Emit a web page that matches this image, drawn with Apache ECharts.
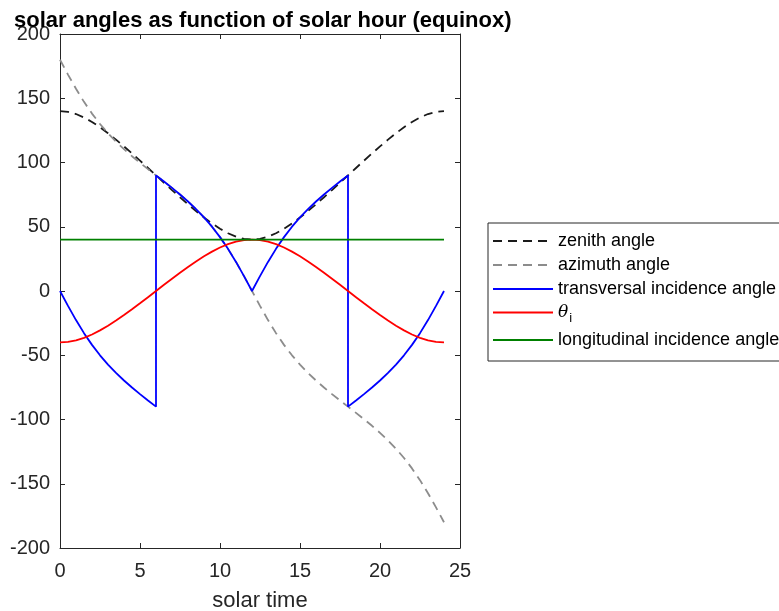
<!DOCTYPE html>
<html lang="en">
<head>
<meta charset="UTF-8">
<title>solar angles</title>
<script src="https://cdn.jsdelivr.net/npm/echarts@6/dist/echarts.min.js"></script>
<style>
  html, body { margin: 0; padding: 0; background: #fff; }
  #chart { width: 779px; height: 611px; }
</style>
</head>
<body>
<div id="chart"></div>
<script>
// solar time, half hour steps
var hours = [0,0.5,1,1.5,2,2.5,3,3.5,4,4.5,5,5.5,6,6.5,7,7.5,8,8.5,9,9.5,10,10.5,11,11.5,12,
  12.5,13,13.5,14,14.5,15,15.5,16,16.5,17,17.5,18,18.5,19,19.5,20,20.5,21,21.5,22,22.5,23,23.5,24];

var zenith = [140.00,139.42,137.73,135.05,131.56,127.43,122.80,117.80,112.52,107.05,101.44,95.74,90.00,
  84.26,78.56,72.95,67.48,62.20,57.20,52.57,48.44,44.95,42.27,40.58,40.00,
  40.58,42.27,44.95,48.44,52.57,57.20,62.20,67.48,72.95,78.56,84.26,90.00,
  95.74,101.44,107.05,112.52,117.80,122.80,127.43,131.56,135.05,137.73,139.42,140.00];

var azimuth = [180,168.42,157.37,147.20,138.07,129.95,122.73,116.26,110.36,104.91,99.77,94.84,90,
  85.16,80.23,75.09,69.64,63.74,57.27,50.05,41.93,32.80,22.63,11.58,0,
  -11.58,-22.63,-32.80,-41.93,-50.05,-57.27,-63.74,-69.64,-75.09,-80.23,-85.16,-90,
  -94.84,-99.77,-104.91,-110.36,-116.26,-122.73,-129.95,-138.07,-147.20,-157.37,-168.42,-180];

var thetaI = [-40,-39.59,-38.38,-36.43,-33.83,-30.66,-27.03,-23.04,-18.75,-14.24,-9.58,-4.81,0,
  4.81,9.58,14.24,18.75,23.04,27.03,30.66,33.83,36.43,38.38,39.59,40,
  39.59,38.38,36.43,33.83,30.66,27.03,23.04,18.75,14.24,9.58,4.81,0,
  -4.81,-9.58,-14.24,-18.75,-23.04,-27.03,-30.66,-33.83,-36.43,-38.38,-39.59,-40];

// transversal angle jumps at 6h and 18h (same hour twice)
var transHours = [0,0.5,1,1.5,2,2.5,3,3.5,4,4.5,5,5.5,6,
  6,6.5,7,7.5,8,8.5,9,9.5,10,10.5,11,11.5,12,
  12.5,13,13.5,14,14.5,15,15.5,16,16.5,17,17.5,18,
  18,18.5,19,19.5,20,20.5,21,21.5,22,22.5,23,23.5,24];
var transversal = [0,-11.58,-22.63,-32.80,-41.93,-50.05,-57.27,-63.74,-69.64,-75.09,-80.23,-85.16,-90,
  90,85.16,80.23,75.09,69.64,63.74,57.27,50.05,41.93,32.80,22.63,11.58,0,
  11.58,22.63,32.80,41.93,50.05,57.27,63.74,69.64,75.09,80.23,85.16,90,
  -90,-85.16,-80.23,-75.09,-69.64,-63.74,-57.27,-50.05,-41.93,-32.80,-22.63,-11.58,0];

var longHours = [0, 24];
var longitudinal = [40, 40];

var names = ['zenith angle', 'azimuth angle', 'transversal incidence angle', 'theta_i', 'longitudinal incidence angle'];

function pairs(xs, ys) {
  var out = [];
  for (var i = 0; i < xs.length; i++) out.push([xs[i], ys[i]]);
  return out;
}

var axisCol = '#262626';
var font = 'Liberation Sans, Arial, Helvetica, sans-serif';

function lineSeries(name, data, color, dashed) {
  return {
    name: name,
    type: 'line',
    data: data,
    symbol: 'none',
    showSymbol: false,
    animation: false,
    lineStyle: { color: color, width: 1.8, type: dashed ? [9, 6] : 'solid' },
    itemStyle: { color: color }
  };
}

var chart = echarts.init(document.getElementById('chart'));
chart.setOption({
  backgroundColor: '#fff',
  animation: false,
  title: {
    text: 'solar angles as function of solar hour (equinox)',
    left: 9, top: 5,
    textStyle: { fontFamily: font, fontWeight: 'bold', fontSize: 22, color: '#000' }
  },
  grid: { left: 60, top: 34, width: 400, height: 514, containLabel: false, outerBoundsMode: 'none' },
  legend: {
    orient: 'vertical',
    left: 488, top: 223,
    padding: [9, 4, 12, 4],
    itemGap: 6,
    itemWidth: 60,
    itemHeight: 14,
    borderColor: axisCol,
    borderWidth: 1,
    backgroundColor: '#fff',
    itemStyle: { opacity: 0 },
    data: names,
    formatter: function (n) {
      return n === 'theta_i' ? '{t|θ}{s|i}' : n;
    },
    textStyle: {
      fontFamily: font, fontSize: 18, color: '#000',
      rich: {
        t: { fontFamily: 'DejaVu Serif, serif', fontStyle: 'italic', fontSize: 17, color: '#000' },
        s: { fontFamily: font, fontSize: 13, color: '#000', padding: [12, 0, 0, 1] }
      }
    }
  },
  xAxis: [{
    type: 'value', min: 0, max: 25, interval: 5,
    name: 'solar time', nameLocation: 'middle', nameGap: 42,
    nameTextStyle: { fontFamily: font, fontSize: 22, color: axisCol },
    axisLine: { show: true, onZero: false, lineStyle: { color: axisCol, width: 1 } },
    axisTick: { show: true, inside: true, length: 5, lineStyle: { color: axisCol } },
    axisLabel: { fontFamily: font, fontSize: 20, color: axisCol, margin: 13 },
    splitLine: { show: false }
  }, {
    type: 'value', min: 0, max: 25, interval: 5, position: 'top',
    axisLine: { show: true, onZero: false, lineStyle: { color: axisCol, width: 1 } },
    axisTick: { show: true, inside: true, length: 5, lineStyle: { color: axisCol } },
    axisLabel: { show: false },
    splitLine: { show: false }
  }],
  yAxis: [{
    type: 'value', min: -200, max: 200, interval: 50,
    axisLine: { show: true, onZero: false, lineStyle: { color: axisCol, width: 1 } },
    axisTick: { show: true, inside: true, length: 5, lineStyle: { color: axisCol } },
    axisLabel: { fontFamily: font, fontSize: 20, color: axisCol, margin: 10 },
    splitLine: { show: false }
  }, {
    type: 'value', min: -200, max: 200, interval: 50, position: 'right',
    axisLine: { show: true, onZero: false, lineStyle: { color: axisCol, width: 1 } },
    axisTick: { show: true, inside: true, length: 5, lineStyle: { color: axisCol } },
    axisLabel: { show: false },
    splitLine: { show: false }
  }],
  series: [
    lineSeries(names[0], pairs(hours, zenith), '#1a1a1a', true),
    lineSeries(names[1], pairs(hours, azimuth), '#8c8c8c', true),
    lineSeries(names[2], pairs(transHours, transversal), '#0000ff', false),
    lineSeries(names[3], pairs(hours, thetaI), '#ff0000', false),
    lineSeries(names[4], pairs(longHours, longitudinal), '#008000', false)
  ]
});
</script>
</body>
</html>
